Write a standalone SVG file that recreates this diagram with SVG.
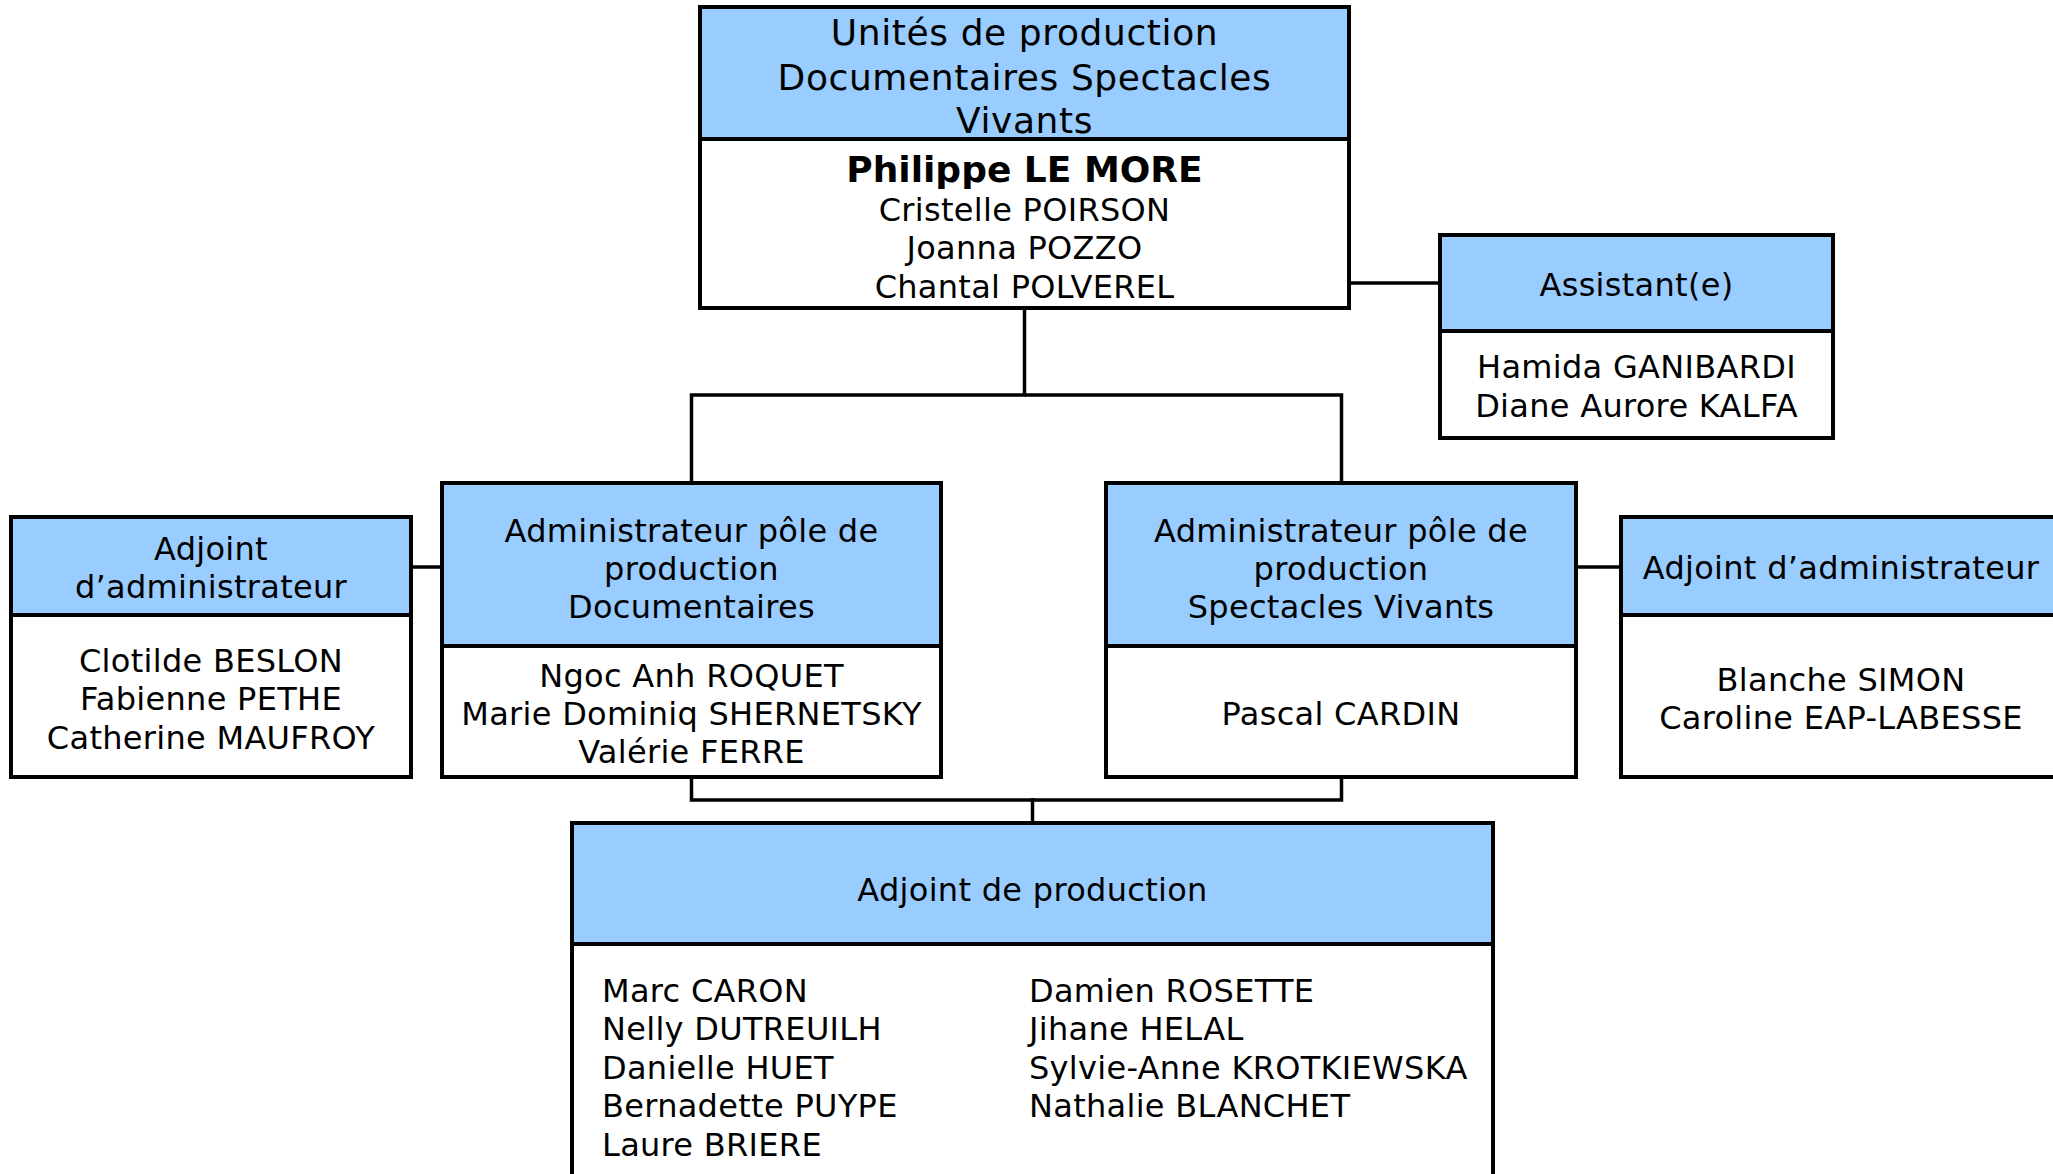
<svg xmlns="http://www.w3.org/2000/svg" width="2053" height="1174" viewBox="0 0 2053 1174">
<style>
.hd{fill:#99CCFF;stroke:#000;stroke-width:4}
.bd{fill:#FFFFFF;stroke:#000;stroke-width:4}
.t{font-family:"DejaVu Sans",Verdana,sans-serif;font-size:32px;fill:#000;text-anchor:middle;letter-spacing:0.3px}
.tl{font-family:"DejaVu Sans",Verdana,sans-serif;font-size:32px;fill:#000;letter-spacing:0.3px}
.ttl{font-family:"DejaVu Sans",Verdana,sans-serif;font-size:36px;fill:#000;text-anchor:middle;letter-spacing:0.6px}
.b{font-weight:bold;font-size:36px;letter-spacing:0}
.c{fill:none;stroke:#000;stroke-width:3.5}
</style>
<rect width="2053" height="1174" fill="#FFFFFF"/>
<g id="connectors">
<polyline class="c" points="1024.5,308 1024.5,395 691.5,395 691.5,483"/>
<polyline class="c" points="1024.5,395 1341.5,395 1341.5,483"/>
<line class="c" x1="1349" y1="283" x2="1440" y2="283"/>
<line class="c" x1="411" y1="567" x2="442" y2="567"/>
<line class="c" x1="1576" y1="567" x2="1621" y2="567"/>
<polyline class="c" points="691.5,777 691.5,800 1341.5,800 1341.5,777"/>
<line class="c" x1="1032.5" y1="798" x2="1032.5" y2="823"/>
</g>
<g id="node-unites">
<rect class="bd" x="700" y="7" width="649" height="301"/>
<rect class="hd" x="700" y="7" width="649" height="132"/>
<text class="ttl" x="1024.5" y="45">Unités de production</text>
<text class="ttl" x="1024.5" y="89.5">Documentaires Spectacles</text>
<text class="ttl" x="1024.5" y="133">Vivants</text>
<text class="t b" x="1024.5" y="182">Philippe LE MORE</text>
<text class="t" x="1024.5" y="221">Cristelle POIRSON</text>
<text class="t" x="1024.5" y="259">Joanna POZZO</text>
<text class="t" x="1024.5" y="298">Chantal POLVEREL</text>
</g>
<g id="node-assistant">
<rect class="bd" x="1440" y="235" width="393" height="203"/>
<rect class="hd" x="1440" y="235" width="393" height="96"/>
<text class="t" x="1636.5" y="295.5">Assistant(e)</text>
<text class="t" x="1636.5" y="378">Hamida GANIBARDI</text>
<text class="t" x="1636.5" y="417">Diane Aurore KALFA</text>
</g>
<g id="node-adjoint-left">
<rect class="bd" x="11" y="517" width="400" height="260"/>
<rect class="hd" x="11" y="517" width="400" height="98"/>
<text class="t" x="211" y="560">Adjoint</text>
<text class="t" x="211" y="598">d’administrateur</text>
<text class="t" x="211" y="671.5">Clotilde BESLON</text>
<text class="t" x="211" y="709.5">Fabienne PETHE</text>
<text class="t" x="211" y="748.5">Catherine MAUFROY</text>
</g>
<g id="node-admin-doc">
<rect class="bd" x="442" y="483" width="499" height="294"/>
<rect class="hd" x="442" y="483" width="499" height="163"/>
<text class="t" x="691.5" y="541.5">Administrateur pôle de</text>
<text class="t" x="691.5" y="579.5">production</text>
<text class="t" x="691.5" y="617.5">Documentaires</text>
<text class="t" x="691.5" y="687">Ngoc Anh ROQUET</text>
<text class="t" x="691.5" y="725">Marie Dominiq SHERNETSKY</text>
<text class="t" x="691.5" y="763">Valérie FERRE</text>
</g>
<g id="node-admin-sv">
<rect class="bd" x="1106" y="483" width="470" height="294"/>
<rect class="hd" x="1106" y="483" width="470" height="163"/>
<text class="t" x="1341" y="541.5">Administrateur pôle de</text>
<text class="t" x="1341" y="579.5">production</text>
<text class="t" x="1341" y="617.5">Spectacles Vivants</text>
<text class="t" x="1341" y="725">Pascal CARDIN</text>
</g>
<g id="node-adjoint-right">
<rect class="bd" x="1621" y="517" width="440" height="260"/>
<rect class="hd" x="1621" y="517" width="440" height="98"/>
<text class="t" x="1841" y="578.5">Adjoint d’administrateur</text>
<text class="t" x="1841" y="691">Blanche SIMON</text>
<text class="t" x="1841" y="729">Caroline EAP-LABESSE</text>
</g>
<g id="node-adjoint-production">
<rect class="bd" x="572" y="823" width="921" height="400"/>
<rect class="hd" x="572" y="823" width="921" height="121"/>
<text class="t" x="1032.5" y="900.5">Adjoint de production</text>
<text class="tl" x="602" y="1001.5">Marc CARON</text>
<text class="tl" x="602" y="1040">Nelly DUTREUILH</text>
<text class="tl" x="602" y="1078.5">Danielle HUET</text>
<text class="tl" x="602" y="1117">Bernadette PUYPE</text>
<text class="tl" x="602" y="1155.5">Laure BRIERE</text>
<text class="tl" x="1029" y="1001.5">Damien ROSETTE</text>
<text class="tl" x="1029" y="1040">Jihane HELAL</text>
<text class="tl" x="1029" y="1078.5">Sylvie-Anne KROTKIEWSKA</text>
<text class="tl" x="1029" y="1117">Nathalie BLANCHET</text>
</g>
</svg>
